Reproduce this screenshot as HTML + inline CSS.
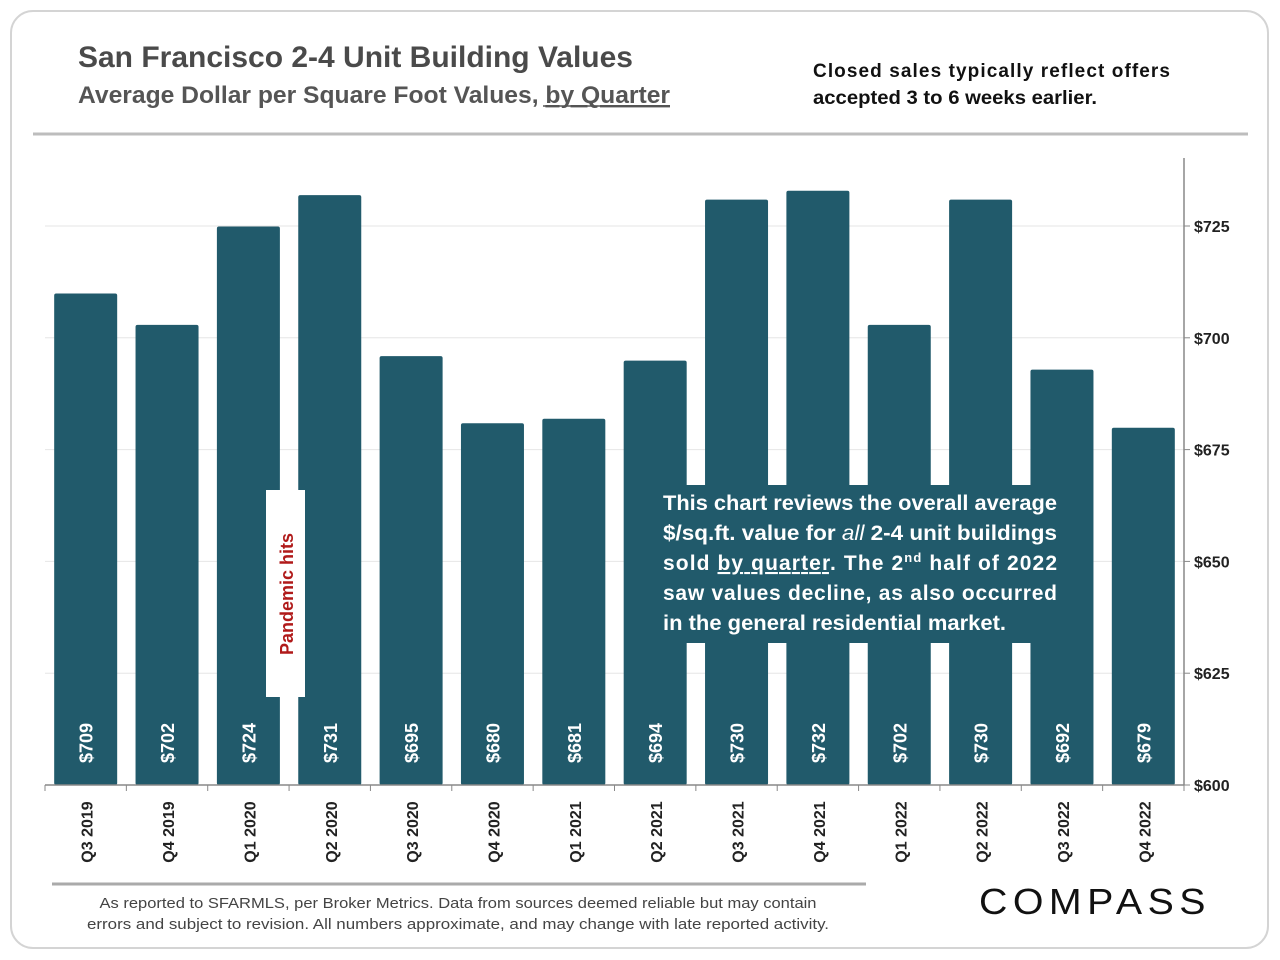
<!DOCTYPE html>
<html><head><meta charset="utf-8"><style>
html,body{margin:0;padding:0;background:#fff;}
svg{display:block;font-family:"Liberation Sans",sans-serif;}
</style></head><body>
<svg id="chart" width="1280" height="960" viewBox="0 0 1280 960">
<rect x="11" y="11" width="1257" height="937" rx="22" fill="#fff" stroke="#d4d4d4" stroke-width="2"/>
<text x="78" y="67" font-size="30" font-weight="bold" fill="#4a4a4a" textLength="555" lengthAdjust="spacingAndGlyphs">San Francisco 2-4 Unit Building Values</text>
<text x="78" y="103" font-size="24" font-weight="bold" fill="#555" textLength="592" lengthAdjust="spacingAndGlyphs">Average Dollar per Square Foot Values, <tspan text-decoration="underline">by Quarter</tspan></text>
<line x1="543" y1="106" x2="670" y2="106" stroke="#555" stroke-width="1.5"/>
<text x="813" y="77" font-size="19" font-weight="bold" fill="#111" textLength="357" lengthAdjust="spacing">Closed sales typically reflect offers</text>
<text x="813" y="104" font-size="19" font-weight="bold" fill="#111" textLength="284" lengthAdjust="spacingAndGlyphs">accepted 3 to 6 weeks earlier.</text>
<line x1="33" y1="134" x2="1248" y2="134" stroke="#bdbdbd" stroke-width="3"/>
<g id="grid"></g>
<g id="bars"></g>
<g id="axes"></g>
<rect x="266" y="490" width="39" height="207" fill="#fff"/>
<text transform="translate(293,594) rotate(-90)" text-anchor="middle" font-size="18" font-weight="bold" fill="#b01a1a">Pandemic hits</text>
<rect x="650" y="485" width="420" height="158" fill="#215a6b"/>
<g font-size="21" font-weight="bold" fill="#fff">
<text x="663" y="510" textLength="394" lengthAdjust="spacingAndGlyphs">This chart reviews the overall average</text>
<text x="663" y="540" textLength="394" lengthAdjust="spacingAndGlyphs">$/sq.ft. value for <tspan font-style="italic" font-weight="normal">all</tspan> 2-4 unit buildings</text>
<text x="663" y="570" textLength="394" lengthAdjust="spacing">sold <tspan text-decoration="underline">by quarter</tspan>. The 2<tspan font-size="13" dy="-8">nd</tspan><tspan dy="8"> half of 2022</tspan></text>
<text x="663" y="600" textLength="394" lengthAdjust="spacing">saw values decline, as also occurred</text>
<text x="663" y="630" textLength="343" lengthAdjust="spacingAndGlyphs">in the general residential market.</text>
</g>
<line x1="52" y1="884" x2="866" y2="884" stroke="#aaa" stroke-width="3"/>
<text x="458" y="908" text-anchor="middle" font-size="14.5" fill="#444" textLength="717" lengthAdjust="spacingAndGlyphs">As reported to SFARMLS, per Broker Metrics. Data from sources deemed reliable but may contain</text>
<text x="458" y="929" text-anchor="middle" font-size="14.5" fill="#444" textLength="742" lengthAdjust="spacingAndGlyphs">errors and subject to revision. All numbers approximate, and may change with late reported activity.</text>
<text x="1095" y="914" text-anchor="middle" font-size="36" fill="#111" letter-spacing="5" textLength="232" lengthAdjust="spacingAndGlyphs">COMPASS</text>
</svg>
<script>
const categories=["Q3 2019","Q4 2019","Q1 2020","Q2 2020","Q3 2020","Q4 2020","Q1 2021","Q2 2021","Q3 2021","Q4 2021","Q1 2022","Q2 2022","Q3 2022","Q4 2022"];
const values=[709,702,724,731,695,680,681,694,730,732,702,730,692,679];
const valueLabels=["$709","$702","$724","$731","$695","$680","$681","$694","$730","$732","$702","$730","$692","$679"];
const yTicks=[600,625,650,675,700,725];
const yTickLabels=["$600","$625","$650","$675","$700","$725"];
const NS="http://www.w3.org/2000/svg";
const x0=45,x1=1184,yBase=785,y725=226;
const yScale=v=>yBase-(v-600)*(yBase-y725)/125;
const step=(x1-x0)/categories.length;
const xCenter=i=>x0+step*(i+0.5);
function mk(tag,attrs,parent){const e=document.createElementNS(NS,tag);for(const k in attrs)e.setAttribute(k,attrs[k]);parent.appendChild(e);return e;}
const grid=document.getElementById('grid'),bars=document.getElementById('bars'),axes=document.getElementById('axes');
yTicks.forEach((t,i)=>{
  const y=yScale(t);
  if(t>600){const g=mk('line',{x1:x0,x2:x1,y1:y,y2:y,stroke:'#e6e6e6','stroke-width':1},grid);
  
  }
  const tk=mk('line',{x1:x1,x2:x1+6,y1:y,y2:y,stroke:'#888'},axes);
  
  
  const l=mk('text',{x:x1+10,y:y+6,'font-size':16,'font-weight':'bold',fill:'#222'},axes);
  l.textContent=yTickLabels[i];
  
  
});
values.forEach((v,i)=>{
  const cx=xCenter(i),w=63,top=yScale(v)-4;
  const r=mk('rect',{x:cx-w/2,y:top,width:w,height:yBase-top,fill:'#215a6b',rx:2},bars);
  
  
  const t=mk('text',{transform:`translate(${cx+7},${yBase-42}) rotate(-90)`,'text-anchor':'middle','font-size':18,'font-weight':'bold',fill:'#fff'},bars);
  t.textContent=valueLabels[i];
  
  
  const c=mk('text',{transform:`translate(${cx+7},${yBase+47}) rotate(-90)`,'text-anchor':'middle','font-size':16,'font-weight':'bold',fill:'#222'},axes);
  c.textContent=categories[i];
  
  
});
for(let i=0;i<=categories.length;i++){
  const x=x0+step*i;
  const tk=mk('line',{x1:x,x2:x,y1:yBase,y2:yBase+6,stroke:'#888'},axes);
  
  
}
const xa=mk('line',{x1:x0,x2:x1,y1:yBase,y2:yBase,stroke:'#888','stroke-width':1.5},axes);


const ya=mk('line',{x1:x1,x2:x1,y1:158,y2:yBase,stroke:'#888','stroke-width':1.5},axes);


</script>
</body></html>
